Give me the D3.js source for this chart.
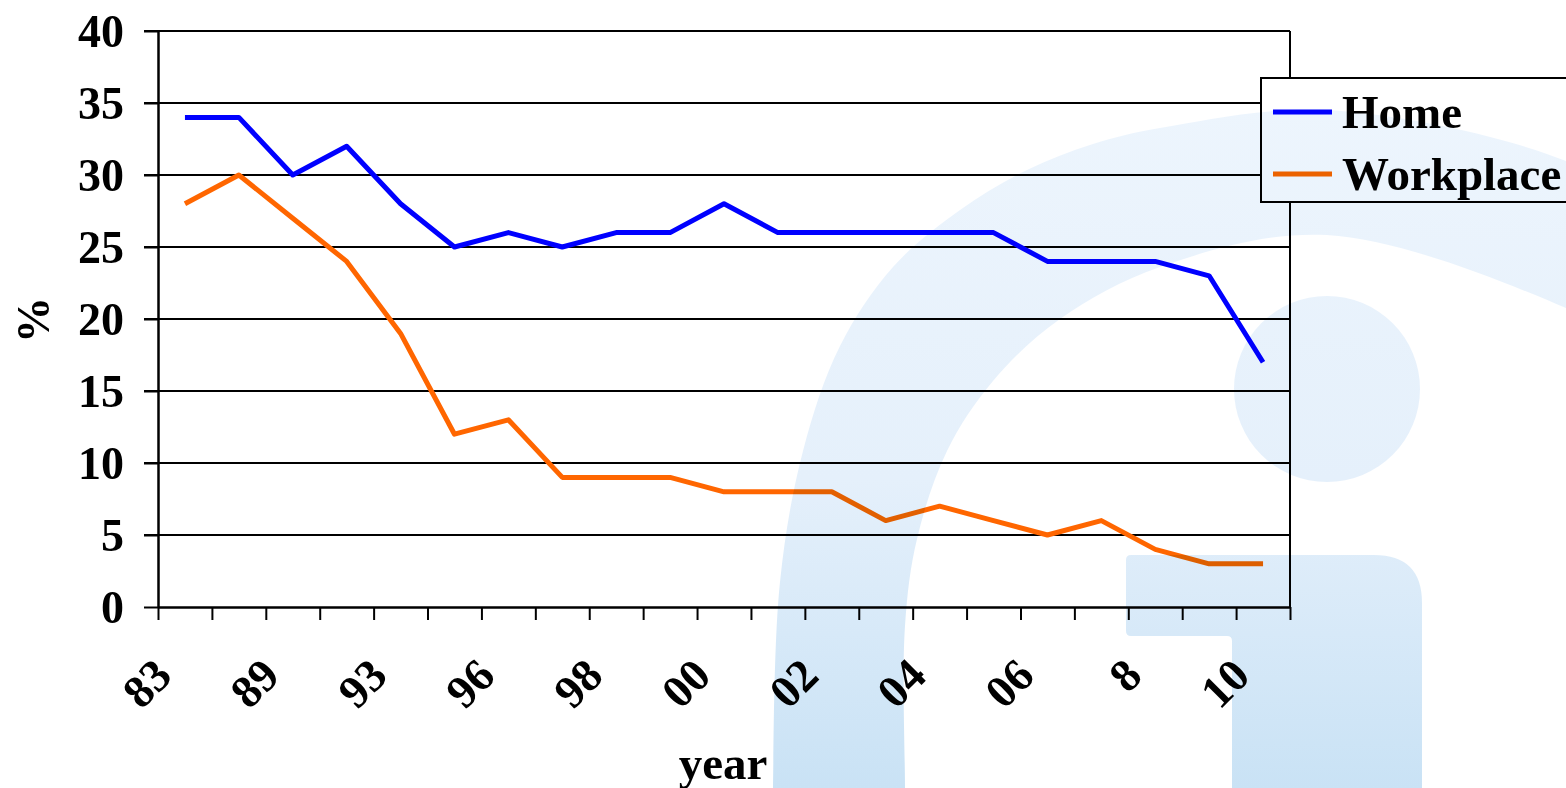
<!DOCTYPE html>
<html>
<head>
<meta charset="utf-8">
<script src="https://cdn.jsdelivr.net/npm/d3@7"></script>
<style>
  body { margin: 0; background: #fff; }
  svg { display: block; }
  text { font-family: "Liberation Serif", "Times New Roman", serif; font-weight: bold; }
</style>
</head>
<body>
<svg id="chart" width="1566" height="788"></svg>
<script>
// share of people exposed at home / at work, by survey year
var tickLabels = ['83', '89', '93', '96', '98', '00', '02', '04', '06', '8', '10'];
var home = [34, 34, 30, 32, 28, 25, 26, 25, 26, 26, 28, 26, 26, 26, 26, 26, 24, 24, 24, 23, 17];
var workplace = [28, 30, 27, 24, 19, 12, 13, 9, 9, 9, 8, 8, 8, 6, 7, 6, 5, 6, 4, 3, 3];
var seriesNames = ['Home', 'Workplace'];
var yTicks = [0, 5, 10, 15, 20, 25, 30, 35, 40];

var colors = ['#0000ff', '#ff6600'];
var width = 1566, height = 788;
var plotLeft = 158, plotRight = 1290, plotTop = 31, plotBottom = 607;

var svg = d3.select('#chart');
svg.append('rect').attr('width', width).attr('height', height).attr('fill', '#fff');

var x = d3.scaleBand().domain(d3.range(home.length)).range([plotLeft, plotRight]);
var xEdge = d3.scaleLinear().domain([0, home.length]).range([plotLeft, plotRight]);
var y = d3.scaleLinear().domain([0, 40]).range([plotBottom, plotTop]);

// horizontal gridlines
svg.append('g')
  .selectAll('line')
  .data(yTicks.filter(function(d) { return d > 0; }))
  .join('line')
  .attr('x1', plotLeft - 14)
  .attr('x2', plotRight)
  .attr('y1', function(d) { return y(d); })
  .attr('y2', function(d) { return y(d); })
  .attr('stroke', '#000')
  .attr('stroke-width', 2);

// right border of plot area
svg.append('line')
  .attr('x1', plotRight).attr('x2', plotRight)
  .attr('y1', plotTop).attr('y2', plotBottom)
  .attr('stroke', '#000').attr('stroke-width', 2);

// y axis
var yAxis = svg.append('g')
  .attr('transform', 'translate(' + plotLeft + ',0)')
  .call(d3.axisLeft(y).tickValues(yTicks).tickSize(14).tickSizeOuter(0).tickPadding(20));
yAxis.attr('font-family', null).attr('font-size', null);
yAxis.selectAll('line').attr('stroke-width', 2);
yAxis.select('.domain').attr('stroke-width', 2.5);
yAxis.selectAll('text').attr('font-size', '46px').attr('dy', '0.33em');

// x axis line and ticks at category edges
var xTicks = svg.append('g')
  .attr('transform', 'translate(0,' + plotBottom + ')')
  .call(d3.axisBottom(xEdge).tickValues(d3.range(home.length + 1))
    .tickSize(13).tickSizeOuter(0).tickFormat(''));
xTicks.selectAll('line').attr('stroke-width', 2);
xTicks.select('.domain').attr('stroke-width', 2.5);

// x labels, every second category, rotated
var xLabels = svg.append('g')
  .attr('transform', 'translate(0,' + plotBottom + ')')
  .call(d3.axisBottom(x).tickValues(d3.range(0, home.length, 2)).tickSize(0)
    .tickFormat(function(d, i) { return tickLabels[i]; }));
xLabels.attr('font-family', null).attr('font-size', null);
xLabels.select('.domain').remove();
xLabels.selectAll('text')
  .attr('x', 0).attr('y', 0).attr('dy', 0)
  .attr('text-anchor', 'end')
  .attr('font-size', '46px')
  .attr('transform', 'translate(-11,71) rotate(-45)');

// series lines
var line = d3.line()
  .x(function(d, i) { return x(i) + x.bandwidth() / 2; })
  .y(function(d) { return y(d); });

[home, workplace].forEach(function(values, k) {
  svg.append('path')
    .datum(values)
    .attr('d', line)
    .attr('fill', 'none')
    .attr('stroke', colors[k])
    .attr('stroke-width', 5)
    .attr('stroke-linejoin', 'round');
});

// axis titles
svg.append('text')
  .attr('transform', 'translate(49,320) rotate(-90)')
  .attr('text-anchor', 'middle')
  .attr('font-size', '46px')
  .text('%');

svg.append('text')
  .attr('x', 723).attr('y', 779)
  .attr('text-anchor', 'middle')
  .attr('font-size', '47px')
  .text('year');

// legend
var legend = svg.append('g');
legend.append('rect')
  .attr('x', 1261).attr('y', 78)
  .attr('width', 400).attr('height', 124)
  .attr('fill', '#fff').attr('stroke', '#000').attr('stroke-width', 2);

seriesNames.forEach(function(name, k) {
  var ly = 112 + k * 62;
  legend.append('line')
    .attr('x1', 1273).attr('x2', 1332)
    .attr('y1', ly).attr('y2', ly)
    .attr('stroke', colors[k]).attr('stroke-width', 5);
  legend.append('text')
    .attr('x', 1342).attr('y', ly + 16)
    .attr('font-size', '47px')
    .text(name);
});

// pale logo watermark laid over the chart
var defs = svg.append('defs');
var grad = defs.append('linearGradient')
  .attr('id', 'logoGrad')
  .attr('gradientUnits', 'userSpaceOnUse')
  .attr('x1', 0).attr('y1', 100).attr('x2', 0).attr('y2', 788);
grad.append('stop').attr('offset', 0).attr('stop-color', '#edf5fd');
grad.append('stop').attr('offset', 0.55).attr('stop-color', '#e5f0fb');
grad.append('stop').attr('offset', 1).attr('stop-color', '#c9e2f5');

var logo = svg.append('g')
  .style('mix-blend-mode', 'multiply')
  .attr('fill', 'url(#logoGrad)');

var archOuter = [[773, 820], [773, 788], [780, 582], [803, 451], [840, 346], [893, 267],
  [960, 210], [1027, 170], [1093, 144], [1160, 128], [1327, 110], [1566, 161], [1660, 220]];
var archInner = [[1660, 360], [1566, 308], [1327, 235], [1160, 267], [1060, 319], [993, 381],
  [947, 451], [917, 539], [905, 626], [905, 788], [905, 820]];

logo.append('path')
  .attr('d', d3.line().curve(d3.curveCatmullRomClosed.alpha(0.5))(archOuter.concat(archInner)));

logo.append('circle').attr('cx', 1327).attr('cy', 389).attr('r', 93);

logo.append('path')
  .attr('d', 'M1126,560 Q1126,555 1131,555 H1374 Q1422,555 1422,603 V800 H1232 V641 Q1232,636 1227,636 H1131 Q1126,636 1126,631 Z');
</script>
</body>
</html>
